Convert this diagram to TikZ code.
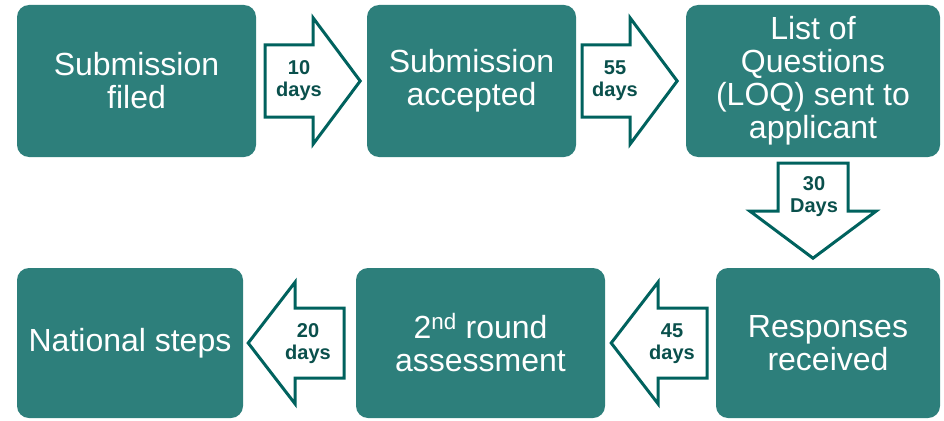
\documentclass[tikz,border=0pt]{standalone}
\usepackage{fontspec}
\setmainfont{Liberation Sans}
\usetikzlibrary{calc}
\definecolor{tealbox}{RGB}{45,127,123}
\definecolor{tealline}{RGB}{0,98,94}
\definecolor{tealtext}{RGB}{10,80,76}
\begin{document}
\begin{tikzpicture}[x=1pt,y=1pt]
\tikzstyle{stage} = [rectangle, fill=tealbox, rounded corners=12pt, text=white, align=center, inner sep=0pt, minimum height=152pt, font=\fontsize{32}{33}\selectfont]
\tikzstyle{blk} = [draw=tealline, fill=white, line width=3pt, miter limit=10]
\tikzstyle{days} = [align=center, inner sep=0pt, text=tealtext, font=\fontsize{20}{22}\selectfont\bfseries]
\useasboundingbox (0,0) rectangle (944,-420);
% top row
\node[stage, minimum width=239pt] (filed) at (136.5,-81) {Submission\\filed};
\node[stage, minimum width=209pt] (accepted) at (471.5,-81) {Submission\\accepted};
\node[stage, minimum width=254pt] (loq) at (813,-81) {List of\\Questions\\(LOQ) sent to\\applicant};
% bottom row
\node[stage, minimum width=224pt, minimum height=150pt] (responses) at (828,-343) {Responses\\received};
\node[stage, minimum width=249pt, minimum height=150pt] (second) at (480.5,-343) {2\textsuperscript{nd} round\\assessment};
\node[stage, minimum width=226pt, minimum height=150pt] (national) at (130,-343) {National steps};
% block arrows
\draw[blk] ($(filed.east)+(9,36)$) -- ++(48,0) -- ++(0,27) -- ++(47,-63) -- ++(-47,-63) -- ++(0,27) -- ++(-48,0) -- cycle;
\draw[blk] ($(accepted.east)+(6,36)$) -- ++(48,0) -- ++(0,27) -- ++(47,-63) -- ++(-47,-63) -- ++(0,27) -- ++(-48,0) -- cycle;
\draw[blk] ($(loq.south)+(-35,-6)$) -- ++(0,-48) -- ++(-28,0) -- ++(63,-47) -- ++(63,47) -- ++(-28,0) -- ++(0,48) -- cycle;
\draw[blk] ($(second.east)+(6,0)$) -- ++(47,61) -- ++(0,-26) -- ++(49,0) -- ++(0,-70) -- ++(-49,0) -- ++(0,-26) -- cycle;
\draw[blk] ($(national.east)+(5,0)$) -- ++(47,61) -- ++(0,-26) -- ++(49,0) -- ++(0,-70) -- ++(-49,0) -- ++(0,-26) -- cycle;
% durations
\node[days] (d10) at (299,-81) {10\\days};
\node[days] (d55) at (615,-81) {55\\days};
\node[days] (d30) at (814,-197) {30\\Days};
\node[days] (d45) at (672,-344) {45\\days};
\node[days] (d20) at (308,-344) {20\\days};
\end{tikzpicture}
\end{document}
